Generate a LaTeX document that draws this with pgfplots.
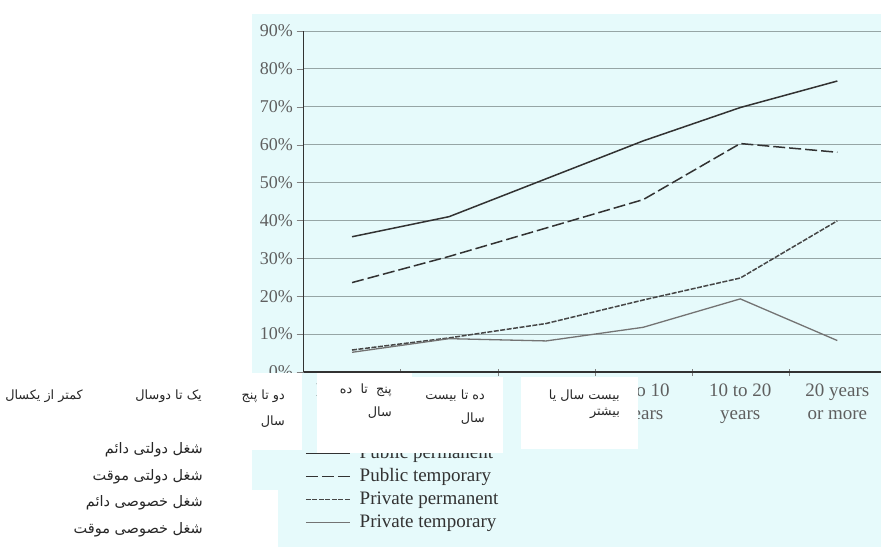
\documentclass[border=0pt]{standalone}
\usepackage{pgfplots}
\pgfplotsset{compat=1.18}
\usepackage{fontspec}
\setmainfont{Liberation Serif}
\newfontfamily\farsi[Script=Arabic]{DejaVu Sans}
\TeXXeTstate=1

\definecolor{panel}{RGB}{230,250,251}
\definecolor{gridc}{RGB}{150,165,165}
\definecolor{lab}{RGB}{95,95,95}
\definecolor{ln}{RGB}{50,50,50}

\begin{document}
\begin{tikzpicture}[x=1pt,y=1pt,
  fa/.style={anchor=east, inner sep=0pt, text=black!85,
    font=\farsi\fontsize{12.8}{14}\selectfont},
  fl/.style={fa, font=\farsi\fontsize{14.5}{16}\selectfont}]
\path[use as bounding box] (0,0) rectangle (881,547);
\fill[panel] (252,0) rectangle (881,533);

\begin{axis}[
    at={(303.5pt,175pt)}, anchor=south west,
    scale only axis, width=577.5pt, height=341pt,
    xmin=0.5, xmax=6.45, ymin=0, ymax=90,
    axis lines*=left,
    axis line style={draw=ln, line width=1.2pt},
    ytick={0,10,...,90},
    yticklabels={0\%,10\%,20\%,30\%,40\%,50\%,60\%,70\%,80\%,90\%},
    ytick align=outside, major tick length=7pt,
    y tick label style={font=\fontsize{18}{20}\selectfont, text=lab},
    ymajorgrids=true,
    major grid style={draw=gridc, line width=1pt},
    xtick={1.5,2.5,3.5,4.5,5.5}, xticklabels={},
    xtick align=center,
    extra x ticks={1,2,3,4,5,6},
    extra x tick labels={Less than\\1 year,1 to 2\\years,2 to 5\\years,5 to 10\\years,10 to 20\\years,20 years\\or more},
    extra x tick style={major tick length=0pt, grid=none,
      tick label style={font=\fontsize{19}{23}\selectfont, align=center,
        text=lab, yshift=-8pt}},
    every axis plot/.append style={line width=1.5pt},
    legend cell align=left,
    legend image code/.code={\draw[#1] (0pt,0pt) -- (44pt,0pt); \path (53pt,0pt);},
    legend style={at={(0.0026,-0.212)}, anchor=north west, draw=none, fill=none,
      inner sep=0pt, row sep=5pt, font=\fontsize{19}{21}\selectfont, text=ln,
      nodes={inner sep=0pt, text height=14pt, text depth=4pt}},
  ]
  \addplot[ln, no markers] coordinates {
    (1,35.7) (2,41) (3,51) (4,61) (5,69.8) (6,76.8)};
  \addlegendentry{Public permanent}
  \addplot[ln, no markers, dash pattern=on 12pt off 4pt] coordinates {
    (1,23.6) (2,30.5) (3,38) (4,45.5) (5,60.3) (6,58)};
  \addlegendentry{Public temporary}
  \addplot[ln!90, no markers, dash pattern=on 5pt off 1.5pt] coordinates {
    (1,5.8) (2,9) (3,12.8) (4,19) (5,24.8) (6,39.9)};
  \addlegendentry{Private permanent}
  \addplot[black!55, no markers, line width=1.3pt] coordinates {
    (1,5.2) (2,8.8) (3,8.2) (4,11.8) (5,19.3) (6,8.3)};
  \addlegendentry{Private temporary}
\end{axis}

% white patches laid over the chart
\fill[white] (0,97) rectangle (302,174);
\fill[white] (252,0) rectangle (278,57);
\fill[white] (317,94) rectangle (412,174);
\fill[white] (412,94) rectangle (503,170);
\fill[white] (521,98) rectangle (638,170);

% Persian category labels
\node[fa] at (83,151) {\beginR کمتر از یکسال\endR};
\node[fa] at (202,151) {\beginR یک تا دوسال\endR};
\node[fa] at (285,151) {\beginR دو تا پنج\endR};
\node[fa] at (285,125) {\beginR سال\endR};
\node[fa] at (392,157) {\beginR پنج \ تا \ ده\endR};
\node[fa] at (392,134) {\beginR سال\endR};
\node[fa] at (485,151) {\beginR ده تا بیست\endR};
\node[fa] at (485,128) {\beginR سال\endR};
\node[fa] at (620,151) {\beginR بیست سال یا\endR};
\node[fa] at (620,134) {\beginR بیشتر\endR};

% Persian legend labels
\node[fl] at (203,97) {\beginR شغل دولتی دائم\endR};
\node[fl] at (203,70) {\beginR شغل دولتی موقت\endR};
\node[fl] at (203,44) {\beginR شغل خصوصی دائم\endR};
\node[fl] at (203,17) {\beginR شغل خصوصی موقت\endR};
\end{tikzpicture}
\end{document}
